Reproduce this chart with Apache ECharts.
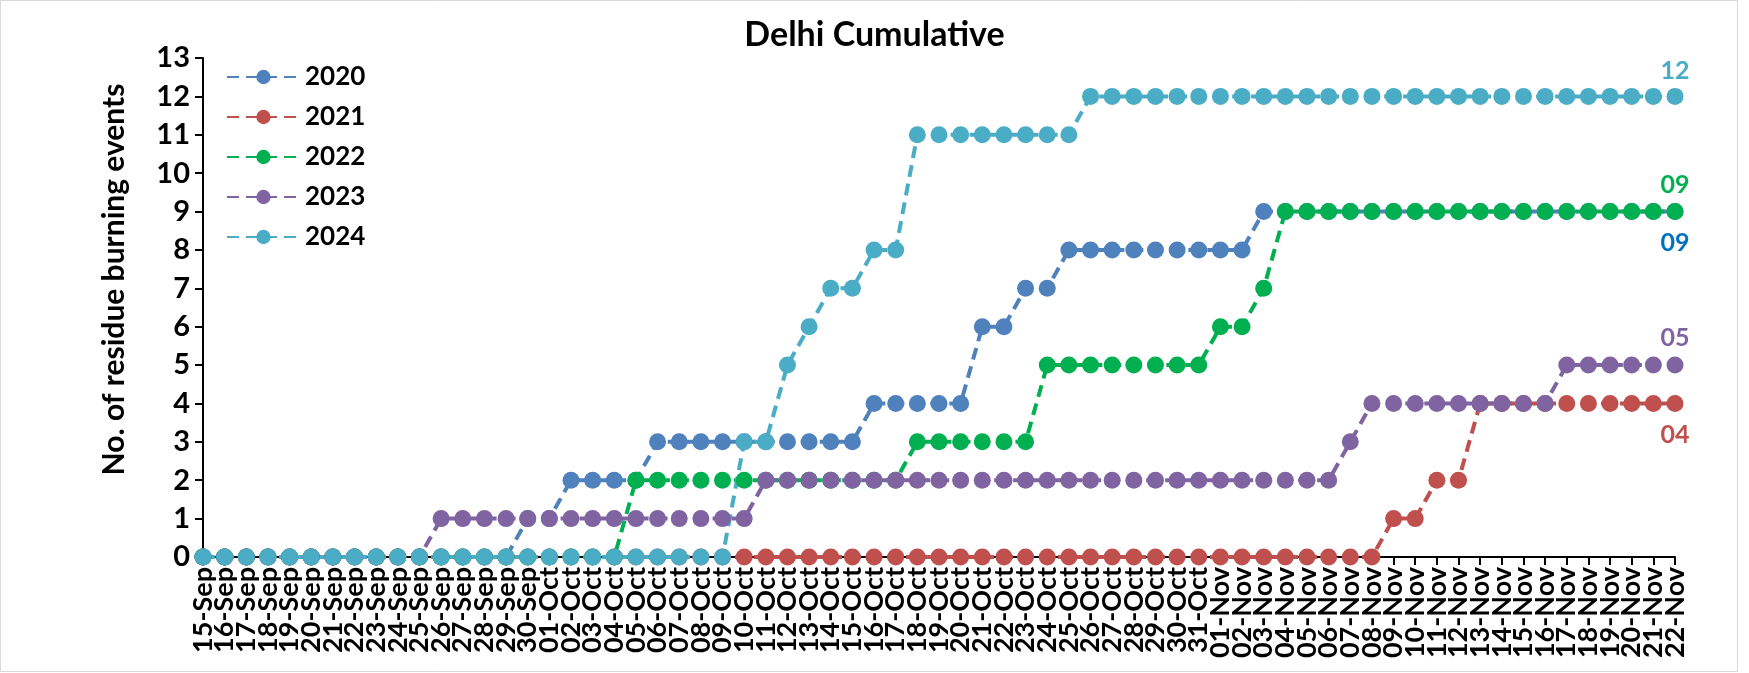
<!DOCTYPE html>
<html>
<head>
<meta charset="utf-8">
<script src="https://cdn.jsdelivr.net/npm/echarts@6/dist/echarts.min.js"></script>
<style>
html,body{margin:0;padding:0;background:#fff;}
#chart{width:1749px;height:673px;}
</style>
</head>
<body>
<div id="chart"></div>
<script>
var categories = [
"15-Sep","16-Sep","17-Sep","18-Sep","19-Sep","20-Sep","21-Sep","22-Sep","23-Sep","24-Sep","25-Sep","26-Sep","27-Sep","28-Sep","29-Sep","30-Sep",
"01-Oct","02-Oct","03-Oct","04-Oct","05-Oct","06-Oct","07-Oct","08-Oct","09-Oct","10-Oct","11-Oct","12-Oct","13-Oct","14-Oct","15-Oct","16-Oct","17-Oct","18-Oct","19-Oct","20-Oct","21-Oct","22-Oct","23-Oct","24-Oct","25-Oct","26-Oct","27-Oct","28-Oct","29-Oct","30-Oct","31-Oct",
"01-Nov","02-Nov","03-Nov","04-Nov","05-Nov","06-Nov","07-Nov","08-Nov","09-Nov","10-Nov","11-Nov","12-Nov","13-Nov","14-Nov","15-Nov","16-Nov","17-Nov","18-Nov","19-Nov","20-Nov","21-Nov","22-Nov"
];
var y2020 = [0,0,0,0,0,0,0,0,0,0,0,0,0,0,0,1,1,2,2,2,2,3,3,3,3,3,3,3,3,3,3,4,4,4,4,4,6,6,7,7,8,8,8,8,8,8,8,8,8,9,9,9,9,9,9,9,9,9,9,9,9,9,9,9,9,9,9,9,9];
var y2021 = [0,0,0,0,0,0,0,0,0,0,0,0,0,0,0,0,0,0,0,0,0,0,0,0,0,0,0,0,0,0,0,0,0,0,0,0,0,0,0,0,0,0,0,0,0,0,0,0,0,0,0,0,0,0,0,1,1,2,2,4,4,4,4,4,4,4,4,4,4];
var y2022 = [0,0,0,0,0,0,0,0,0,0,0,0,0,0,0,0,0,0,0,0,2,2,2,2,2,2,2,2,2,2,2,2,2,3,3,3,3,3,3,5,5,5,5,5,5,5,5,6,6,7,9,9,9,9,9,9,9,9,9,9,9,9,9,9,9,9,9,9,9];
var y2023 = [0,0,0,0,0,0,0,0,0,0,0,1,1,1,1,1,1,1,1,1,1,1,1,1,1,1,2,2,2,2,2,2,2,2,2,2,2,2,2,2,2,2,2,2,2,2,2,2,2,2,2,2,2,3,4,4,4,4,4,4,4,4,4,5,5,5,5,5,5];
var y2024 = [0,0,0,0,0,0,0,0,0,0,0,0,0,0,0,0,0,0,0,0,0,0,0,0,0,3,3,5,6,7,7,8,8,11,11,11,11,11,11,11,11,12,12,12,12,12,12,12,12,12,12,12,12,12,12,12,12,12,12,12,12,12,12,12,12,12,12,12,12];
var seriesNames = ["2020","2021","2022","2023","2024"];
var yTicks = [0,1,2,3,4,5,6,7,8,9,10,11,12,13];

var FONT = 'Lato';
var colors = ['#4F81BD','#C0504D','#00B050','#8064A2','#4BACC6'];
var labelColors = ['#0070C0','#C0504D','#00B050','#8064A2','#4BACC6'];
var labelPos = ['bottom','bottom','top','top','top'];
var labelDist = [10,10,6,6,4];
var allData = [y2020,y2021,y2022,y2023,y2024];
var last = categories.length - 1;

var series = seriesNames.map(function(name, i){
  return {
    name: name,
    type: 'line',
    data: allData[i],
    symbol: 'circle',
    symbolSize: 17,
    itemStyle: {color: colors[i]},
    lineStyle: {color: colors[i], width: 4, type: [12, 7]},
    label: {
      show: true,
      position: labelPos[i],
      distance: labelDist[i],
      color: labelColors[i],
      fontFamily: FONT,
      fontWeight: 'bold',
      fontSize: 25,
      formatter: function(p){
        return p.dataIndex === last ? String(p.value).padStart(2,'0') : '';
      }
    },
    emphasis: {disabled: true},
    animation: false
  };
});

var chart = echarts.init(document.getElementById('chart'), null, {renderer: 'canvas'});
chart.setOption({
  backgroundColor: '#fff',
  animation: false,
  title: {
    text: 'Delhi Cumulative',
    left: 'center',
    top: 18,
    padding: 0,
    textStyle: {fontFamily: FONT, fontWeight: 'bold', fontSize: 34, color: '#000'}
  },
  legend: {
    orient: 'vertical',
    left: 226,
    top: 64,
    padding: 0,
    itemWidth: 73,
    itemHeight: 18,
    itemGap: 14,
    data: seriesNames,
    textStyle: {fontFamily: FONT, fontWeight: 'bold', fontSize: 26, color: '#000'}
  },
  grid: {left: 203, right: 74, top: 58, bottom: 116},
  xAxis: {
    type: 'category',
    data: categories,
    boundaryGap: false,
    axisLine: {lineStyle: {color: '#000', width: 2}},
    axisTick: {show: true, interval: 0, length: 8, lineStyle: {color: '#000', width: 2}},
    axisLabel: {interval: 0, rotate: 90, margin: 10, color: '#000', fontFamily: FONT, fontWeight: 'bold', fontSize: 27}
  },
  yAxis: {
    type: 'value',
    min: 0, max: 13, interval: 1,
    name: 'No. of residue burning events',
    nameLocation: 'middle',
    nameGap: 74,
    nameTextStyle: {fontFamily: FONT, fontWeight: 'bold', fontSize: 30, color: '#000', padding: [0, 0, 0, 56]},
    splitLine: {show: false},
    axisLine: {show: true, lineStyle: {color: '#000', width: 2}},
    axisTick: {show: true, length: 8, lineStyle: {color: '#000', width: 2}},
    axisLabel: {margin: 13, color: '#000', fontFamily: FONT, fontWeight: 'bold', fontSize: 29,
      formatter: function(v){ return yTicks.indexOf(v) >= 0 ? String(v) : ''; }}
  },
  graphic: [{
    type: 'rect',
    shape: {x: 0.5, y: 0.5, width: 1737, height: 671},
    style: {fill: 'none', stroke: '#D9D9D9', lineWidth: 1},
    silent: true, z: -1
  }],
  series: series
});
</script>
</body>
</html>
